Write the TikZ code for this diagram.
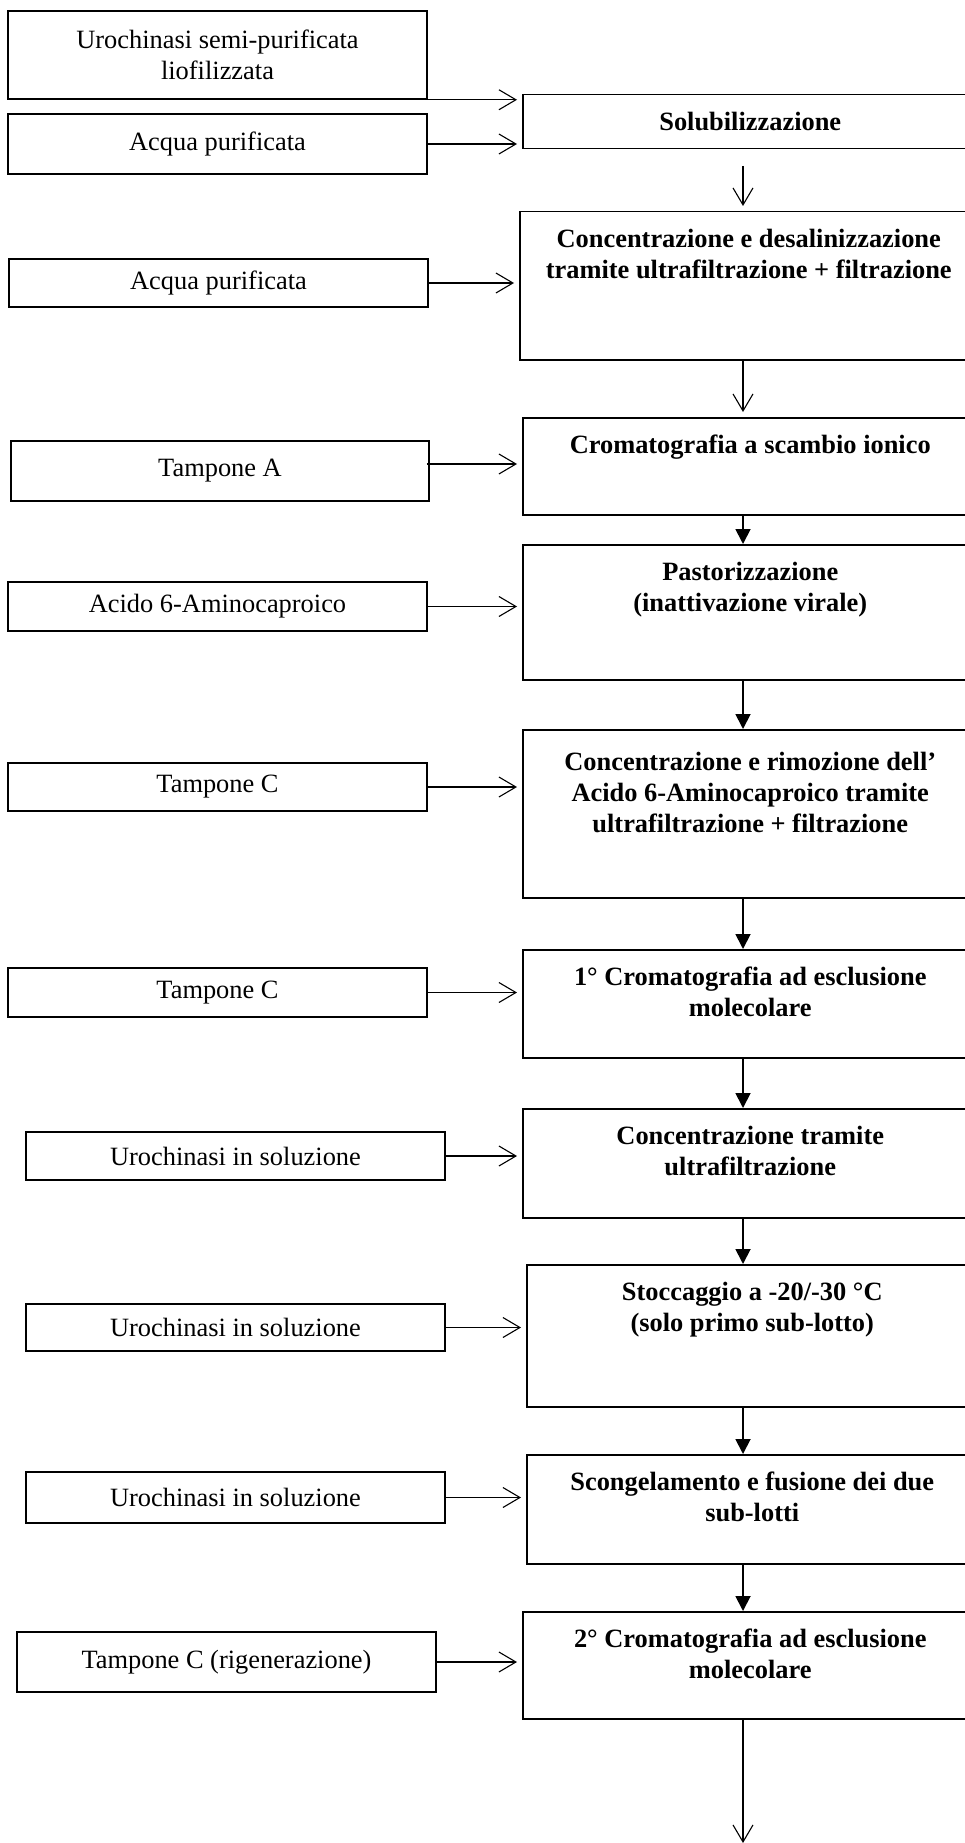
\documentclass[tikz,border=0pt]{standalone}
\usepackage{fontspec}
\setmainfont{Liberation Serif}
\usetikzlibrary{arrows.meta,positioning}
\tikzstyle{inbox}=[draw=black,line width=1.5pt,inner sep=0pt,align=center,
  font=\fontsize{26.4}{31}\selectfont]
\tikzstyle{stepbox}=[draw=black,line width=1.5pt,inner sep=0pt,anchor=north west,
  minimum width=455pt,align=center,font=\fontsize{26.4}{31}\selectfont\bfseries]
\tikzstyle{steptext}=[anchor=north,align=center,inner sep=0pt,
  font=\fontsize{26.4}{31}\selectfont\bfseries]
\tikzstyle{feed}=[-{Straight Barb[length=17pt,width=20pt]},line width=1.1pt,shorten >=5pt]
\tikzstyle{flow}=[-{Triangle[length=15pt,width=15pt]},line width=1.8pt]
\tikzstyle{none}=[]

\begin{document}
\begin{tikzpicture}[x=1pt,y=-1pt]
            \useasboundingbox (0,0) rectangle (965,1843);
            \clip (0,0) rectangle (965,1843);
            \node [style=inbox, minimum width=419pt, minimum height=88pt] (0) at (217.5, 55) {Urochinasi semi-purificata\\liofilizzata};
            \node [style=inbox, minimum width=419pt, minimum height=60pt] (1) at (217.5, 144) {Acqua purificata};
            \node [style=inbox, minimum width=419pt, minimum height=48pt] (2) at (218.5, 283) {Acqua purificata};
            \node [style=inbox, minimum width=418pt, minimum height=60pt] (3) at (220, 471) {Tampone A};
            \node [style=inbox, minimum width=419pt, minimum height=49pt] (4) at (217.5, 606.5) {Acido 6-Aminocaproico};
            \node [style=inbox, minimum width=419pt, minimum height=48pt] (5) at (217.5, 787) {Tampone C};
            \node [style=inbox, minimum width=419pt, minimum height=49pt] (6) at (217.5, 992.5) {Tampone C};
            \node [style=inbox, minimum width=419pt, minimum height=48pt] (7) at (235.5, 1156) {Urochinasi in soluzione};
            \node [style=inbox, minimum width=419pt, minimum height=47pt] (8) at (235.5, 1327.5) {Urochinasi in soluzione};
            \node [style=inbox, minimum width=419pt, minimum height=51pt] (9) at (235.5, 1497.5) {Urochinasi in soluzione};
            \node [style=inbox, minimum width=419pt, minimum height=60pt] (10) at (226.5, 1662) {Tampone C (rigenerazione)};
            \node [style=stepbox, minimum height=54pt] (11) at (522, 94) {Solubilizzazione};
            \node [style=stepbox, minimum height=148pt, minimum width=458pt] (12) at (519, 211) {};
            \node [style=stepbox, minimum height=97pt] (13) at (522, 417) {};
            \node [style=stepbox, minimum height=135pt] (14) at (522, 544) {};
            \node [style=stepbox, minimum height=168pt] (15) at (522, 729) {};
            \node [style=stepbox, minimum height=108pt] (16) at (522, 949) {};
            \node [style=stepbox, minimum height=109pt] (17) at (522, 1108) {};
            \node [style=stepbox, minimum height=142pt, minimum width=451pt] (18) at (526, 1264) {};
            \node [style=stepbox, minimum height=109pt, minimum width=451pt] (19) at (526, 1454) {};
            \node [style=stepbox, minimum height=107pt] (20) at (522, 1611) {};
            \node [style=steptext, below=18pt of 12.north] (30) {Concentrazione e desalinizzazione\\tramite ultrafiltrazione + filtrazione};
            \node [style=steptext, below=18pt of 13.north] (31) {Cromatografia a scambio ionico};
            \node [style=steptext, below=18pt of 14.north] (32) {Pastorizzazione\\(inattivazione virale)};
            \node [style=steptext, below=23pt of 15.north] (33) {Concentrazione e rimozione dell'\\Acido 6-Aminocaproico tramite\\ultrafiltrazione + filtrazione};
            \node [style=steptext, below=18pt of 16.north] (34) {1° Cromatografia ad esclusione\\molecolare};
            \node [style=steptext, below=18pt of 17.north] (35) {Concentrazione tramite\\ultrafiltrazione};
            \node [style=steptext, below=18pt of 18.north] (36) {Stoccaggio a -20/-30 °C\\(solo primo sub-lotto)};
            \node [style=steptext, below=18pt of 19.north] (37) {Scongelamento e fusione dei due\\sub-lotti};
            \node [style=steptext, below=18pt of 20.north] (38) {2° Cromatografia ad esclusione\\molecolare};
            \coordinate (21) at (743, 166);
            \coordinate (22) at (743, 1848);
            \coordinate (23) at ([shift={(-3,-7)}]3.east);
            \draw [style=feed] (0.south east) to (0.south east -| 11.west);
            \draw [style=feed] (1.east) to (1.east -| 11.west);
            \draw [style=feed] (2.east) to (2.east -| 12.west);
            \draw [style=feed] (23) to (23 -| 13.west);
            \draw [style=feed] (4.east) to (4.east -| 14.west);
            \draw [style=feed] (5.east) to (5.east -| 15.west);
            \draw [style=feed] (6.east) to (6.east -| 16.west);
            \draw [style=feed] (7.east) to (7.east -| 17.west);
            \draw [style=feed] (8.east) to (8.east -| 18.west);
            \draw [style=feed] (9.east) to (9.east -| 19.west);
            \draw [style=feed] (10.east) to (10.east -| 20.west);
            \draw [style=feed] (21) to (12.north -| 21);
            \draw [style=feed] (12.south -| 21) to (13.north -| 21);
            \draw [style=flow] (13.south -| 21) to (14.north -| 21);
            \draw [style=flow] (14.south -| 21) to (15.north -| 21);
            \draw [style=flow] (15.south -| 21) to (16.north -| 21);
            \draw [style=flow] (16.south -| 21) to (17.north -| 21);
            \draw [style=flow] (17.south -| 21) to (18.north -| 21);
            \draw [style=flow] (18.south -| 21) to (19.north -| 21);
            \draw [style=flow] (19.south -| 21) to (20.north -| 21);
            \draw [style=feed] (20.south -| 21) to (22);
    \end{tikzpicture}
\end{document}
